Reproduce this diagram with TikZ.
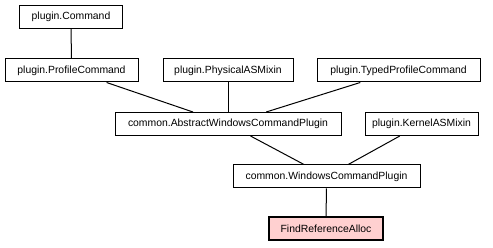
\documentclass[tikz,border=0pt]{standalone}
\usepackage{fontspec}
\setmainfont{Liberation Sans}
\usepackage{tikz}
\usetikzlibrary{arrows.meta,positioning}
\definecolor{hilite}{HTML}{FFD0D0}

\begin{document}
\begin{tikzpicture}[x=1pt,y=-1pt,
  cls/.style={draw,line width=1pt,rectangle,inner sep=0pt,minimum height=23pt,font=\fontsize{10.4}{12}\selectfont},
  cur/.style={cls,fill=hilite,line width=2pt},
  link/.style={line width=1pt}]
\useasboundingbox (0,0) rectangle (493,248);
\node[cls,minimum width=103pt] (cmd) at (71,17) {plugin.Command};
\node[cls,minimum width=133pt] (profile) at (71.5,70.5) {plugin.ProfileCommand};
\node[cls,minimum width=130pt] (physical) at (228,70.5) {plugin.PhysicalASMixin};
\node[cls,minimum width=163pt] (typed) at (398.5,70.5) {plugin.TypedProfileCommand};
\node[cls,minimum width=226pt] (abstract) at (228,124) {common.AbstractWindowsCommandPlugin};
\node[cls,minimum width=113pt] (kernel) at (421.5,124) {plugin.KernelASMixin};
\node[cls,minimum width=187pt] (windows) at (326.5,176.5) {common.WindowsCommandPlugin};
\node[cur,minimum width=114pt,minimum height=23pt] (findref) at (326,229) {FindReferenceAlloc};
\draw[link] (cmd)--(profile);
\draw[link] (profile)--(abstract);
\draw[link] (physical)--(abstract);
\draw[link] (typed)--(abstract);
\draw[link] (abstract)--(windows);
\draw[link] (kernel)--(windows);
\draw[link] (windows)--(findref);
\end{tikzpicture}
\end{document}
